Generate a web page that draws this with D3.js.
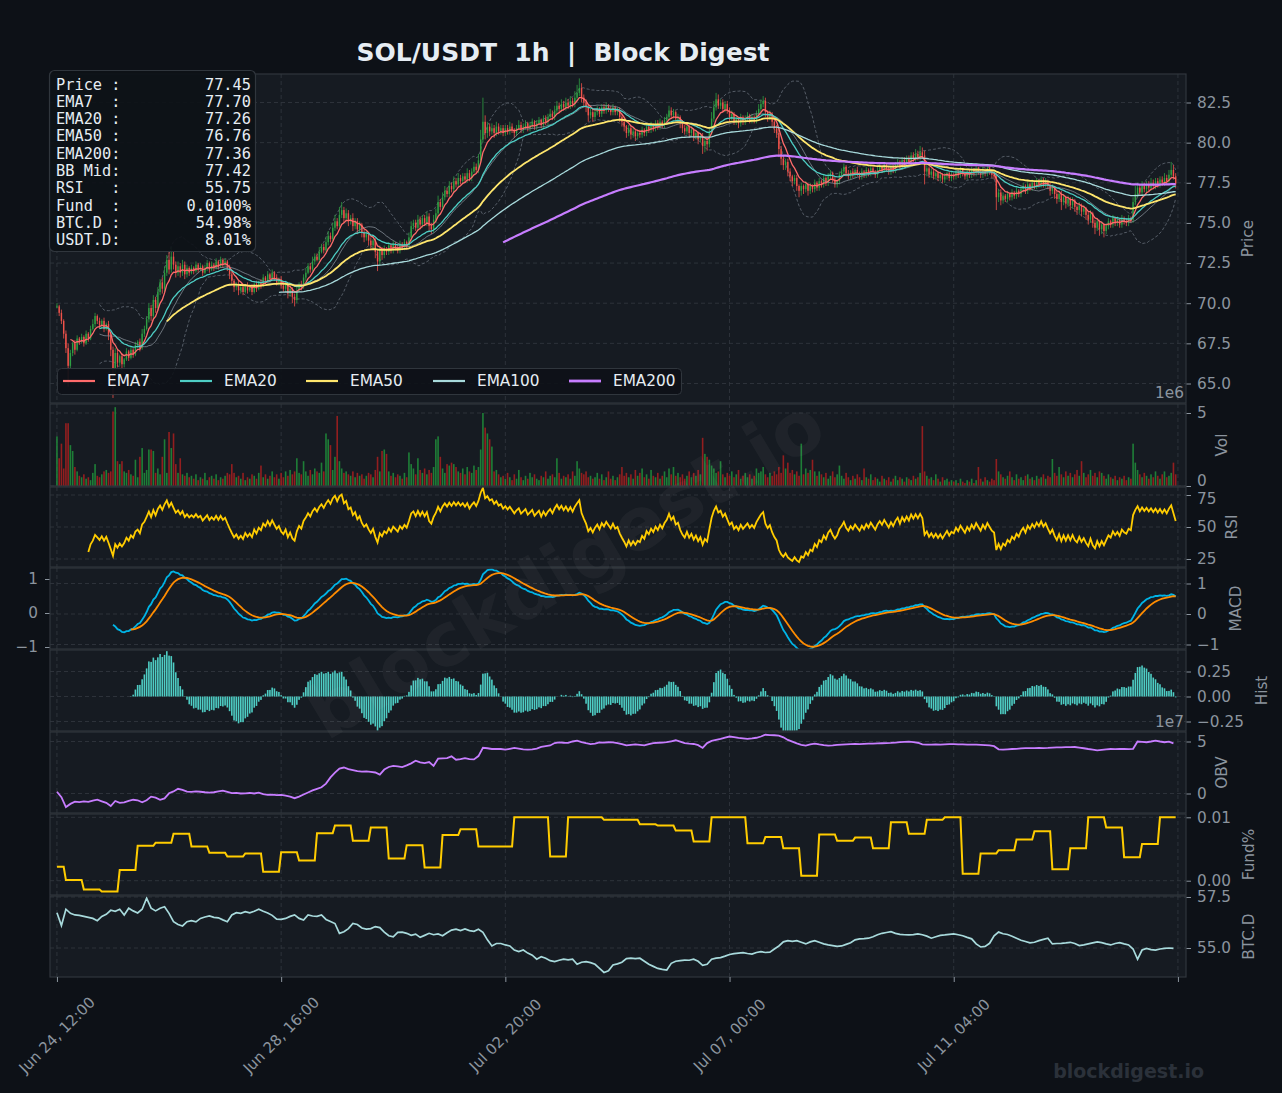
<!DOCTYPE html>
<html>
<head>
<meta charset="utf-8">
<script src="https://cdn.jsdelivr.net/npm/d3@7"></script>
<style>
  body { margin: 0; background: #0d1117; }
  svg { display: block; font-family: "DejaVu Sans", sans-serif; }
</style>
</head>
<body>
<div id="chart"></div>
<script>
// hourly closes, SOL/USDT, from Jun 24 12:00
var closes = [
 69.8,69.4,68.9,68.1,67.2,66.1,66.9,67.5,67.1,67.8,67.6,67.9,67.5,68.1,67.8,68.4,68.7,69.2,68.9,68.6,
 68.9,68.4,68.7,68.0,67.1,65.9,66.9,66.3,66.7,66.2,66.5,67.0,66.6,67.1,66.8,67.4,67.6,67.2,68.1,68.4,
 69.0,69.7,69.2,70.2,69.7,70.7,71.3,70.9,71.9,72.7,72.1,72.9,72.4,71.9,72.3,71.9,72.4,71.8,72.2,71.9,
 72.2,72.0,72.4,72.1,72.3,71.9,72.2,72.5,72.1,72.4,72.2,72.6,72.3,72.7,72.4,72.6,72.2,71.8,71.4,71.0,
 71.2,70.8,71.0,70.7,71.1,70.8,71.0,70.7,71.2,70.9,71.3,71.1,71.6,71.4,71.8,71.5,71.9,71.6,71.3,71.5,
 71.1,70.9,71.2,70.6,70.9,70.4,70.2,70.8,71.2,71.0,71.6,71.9,72.3,72.1,72.6,72.9,72.7,73.2,73.5,73.3,
 73.8,74.2,74.0,74.7,75.1,74.8,75.5,75.8,75.3,75.6,75.1,75.3,74.8,75.1,74.6,74.9,74.4,74.1,74.3,73.9,
 73.6,73.9,73.2,72.6,73.3,73.0,73.4,73.2,73.6,73.3,73.7,73.5,73.3,73.7,73.5,73.8,73.6,74.1,74.8,75.0,
 74.7,75.2,74.9,75.3,75.0,75.4,74.8,74.6,75.2,75.6,76.3,76.0,76.6,77.0,76.8,77.3,77.1,77.6,77.4,77.8,
 77.6,77.9,77.7,78.1,77.8,78.2,78.5,78.3,78.9,80.2,81.3,80.6,81.0,80.7,80.9,80.6,81.0,80.7,80.9,80.6,
 80.9,80.7,81.0,80.8,80.6,80.9,81.1,80.8,81.0,81.2,80.9,81.1,81.3,81.0,81.2,81.4,81.1,81.5,81.3,81.6,
 81.8,81.6,82.0,82.3,82.1,82.4,82.2,82.5,82.3,82.6,82.4,82.8,83.1,83.4,82.8,82.5,82.2,81.7,81.9,81.6,
 81.9,82.1,81.8,82.2,82.0,82.3,82.1,81.9,82.2,81.9,82.0,81.6,81.3,81.0,80.6,80.9,80.5,80.7,80.4,80.6,
 80.5,80.8,80.6,81.0,80.8,81.1,80.9,81.2,81.0,81.3,81.1,81.4,81.6,82.0,81.7,81.9,81.5,81.6,81.2,80.9,
 80.7,81.0,80.6,80.8,80.4,80.6,80.2,80.4,79.8,80.1,79.9,80.6,81.5,82.2,82.7,82.3,82.5,82.1,82.4,82.0,
 81.6,81.8,81.3,81.5,81.2,81.6,81.3,81.5,81.7,81.4,81.6,81.4,81.8,82.1,82.4,82.6,81.9,81.6,81.8,81.3,
 80.9,80.6,79.6,79.0,78.6,78.8,78.2,77.9,77.6,77.8,77.3,77.0,77.3,77.1,77.4,77.0,77.3,77.1,77.5,77.2,
 77.6,77.4,77.8,77.5,77.9,78.1,77.7,77.4,77.6,78.0,78.2,78.5,78.1,77.9,78.2,78.0,78.3,78.1,77.9,78.2,
 78.0,78.3,78.1,78.4,78.2,78.0,78.3,78.5,78.3,78.6,78.4,78.2,78.5,78.3,78.6,78.8,78.5,78.9,78.7,79.0,
 78.8,79.2,79.0,79.3,79.1,79.4,79.2,78.2,78.4,78.0,78.2,77.9,78.1,77.8,78.0,77.7,77.9,78.1,77.8,78.0,
 77.9,78.2,78.0,78.3,78.1,77.9,78.2,78.0,78.3,78.1,78.4,78.2,78.0,78.3,78.1,78.4,78.2,78.0,77.9,76.6,
 76.9,76.4,76.7,76.5,76.8,76.6,76.9,76.7,77.0,76.8,77.1,77.3,77.0,77.4,77.2,77.5,77.3,77.6,77.4,77.7,
 77.4,77.6,77.3,77.0,77.2,76.8,76.5,76.8,76.3,76.6,76.2,76.5,76.1,76.4,76.0,75.8,76.1,75.7,75.9,75.5,
 75.2,75.6,75.0,74.7,75.1,74.6,74.9,74.5,74.8,75.1,74.9,75.3,75.0,75.2,74.9,75.3,75.1,75.0,75.3,75.2,
 76.3,76.8,77.2,76.9,77.3,77.1,77.4,77.2,77.5,77.3,77.6,77.4,77.7,77.5,77.8,77.6,78.0,78.3,77.9,77.45
];

// wick length above / below the candle body, in tenths of a dollar
var wickHi = [
 2,1,2,1,2,3,2,1,2,2,1,2,1,2,1,2,3,2,1,2,
 1,2,1,2,1,2,3,2,1,2,1,2,1,2,1,2,1,2,3,2,
 2,3,2,3,2,3,2,3,4,3,5,6,3,2,3,2,3,2,2,1,
 2,1,2,1,2,1,2,2,1,2,1,2,1,2,1,2,1,2,2,1,
 1,2,1,2,1,2,1,2,1,2,1,2,2,1,2,1,2,1,2,1,
 2,1,2,1,2,1,2,2,1,2,2,3,2,2,3,2,2,3,2,2,
 3,3,2,3,4,2,5,5,2,3,2,2,3,2,2,2,1,2,2,1,
 2,1,2,2,3,2,2,1,2,1,2,1,2,2,1,2,1,3,3,2,
 2,3,2,2,2,3,2,2,3,3,4,2,3,3,2,3,2,3,2,3,
 2,2,2,3,2,2,3,2,4,6,15,4,3,2,3,2,3,2,2,2,
 2,2,3,2,1,2,3,2,2,2,1,2,2,1,2,2,1,2,2,2,
 3,2,3,3,2,3,2,3,2,3,2,4,5,6,3,2,2,2,2,2,
 2,2,1,2,2,2,1,2,2,1,2,2,1,2,1,2,1,2,1,2,
 2,2,1,2,2,2,1,2,2,2,1,2,2,3,2,2,1,2,1,2,
 2,2,1,2,1,2,1,2,2,2,2,3,4,4,4,3,2,2,2,2,
 2,2,1,2,1,2,1,2,2,1,2,1,2,3,3,3,2,1,2,1,
 2,2,3,2,2,2,2,2,1,2,2,1,2,1,2,1,2,1,2,1,
 2,1,2,1,2,2,1,2,1,2,2,2,1,2,1,2,1,2,1,2,
 1,2,1,2,1,1,2,2,1,2,1,1,2,1,2,2,1,2,2,2,
 2,2,2,3,2,4,3,3,2,1,2,1,2,1,2,1,2,1,1,2,
 1,2,1,2,1,1,2,1,2,1,2,1,1,2,1,2,1,1,1,2,
 2,2,2,1,2,1,2,1,2,1,2,2,1,2,1,2,1,2,1,2,
 1,2,1,2,2,1,2,2,2,2,1,2,1,2,1,1,2,1,2,1,
 2,2,1,2,2,1,2,1,2,2,1,2,1,2,1,2,1,2,2,1,
 3,5,3,2,3,2,2,2,3,2,2,2,2,2,3,2,3,5,3,2
];
var wickLo = [
 1,2,2,3,3,13,2,2,3,1,2,1,2,1,2,1,1,2,2,2,
 2,2,1,3,4,18,2,3,2,3,2,1,2,1,2,1,2,2,1,2,
 1,2,3,2,3,2,2,3,2,2,3,2,3,3,2,3,2,3,2,2,
 1,2,1,2,1,2,1,2,2,1,2,1,2,1,2,1,2,3,3,3,
 2,3,2,2,1,2,1,2,1,2,1,2,1,2,1,2,1,2,2,2,
 2,2,2,3,2,4,4,2,1,2,1,2,1,2,1,2,1,2,1,2,
 1,2,2,1,2,2,1,2,3,2,3,2,3,2,3,2,3,3,2,3,
 3,2,4,6,2,3,2,2,2,2,2,2,2,2,2,2,2,1,2,2,
 2,2,3,2,2,2,3,3,2,2,2,2,2,2,2,2,2,2,2,2,
 2,2,2,2,2,2,1,2,2,1,2,4,3,3,2,3,2,2,2,2,
 2,2,2,2,3,2,1,2,2,2,2,2,2,2,2,1,2,2,2,2,
 1,2,2,2,2,2,2,2,2,2,2,2,2,2,3,3,3,4,2,3,
 2,2,2,2,2,2,2,2,2,2,2,3,3,3,3,2,3,2,3,2,
 2,2,2,2,2,2,2,2,2,2,2,2,2,2,2,2,2,2,3,3,
 2,2,3,2,3,2,3,2,5,4,4,2,1,2,2,2,2,2,2,2,
 3,2,2,2,3,2,2,2,2,2,2,2,2,2,2,2,3,3,2,3,
 3,3,5,4,3,3,3,3,3,2,3,4,3,3,2,3,2,2,2,2,
 2,2,2,2,2,2,2,2,2,2,2,2,2,2,2,2,2,2,2,2,
 2,2,2,2,2,2,2,1,2,2,2,2,2,2,2,1,2,2,2,2,
 2,2,2,2,2,2,2,8,3,2,2,2,2,2,2,2,2,2,2,2,
 2,2,2,2,2,2,2,2,2,2,2,2,2,2,2,2,2,2,2,8,
 3,3,2,2,2,2,2,2,2,2,2,2,2,2,2,2,2,2,2,2,
 2,2,2,3,2,3,3,2,5,2,3,2,3,2,3,3,2,3,2,3,
 3,2,3,4,2,4,3,4,2,2,2,2,2,2,2,2,2,2,2,2,
 2,2,2,2,2,2,2,2,2,2,2,2,2,2,2,2,2,2,2,3
];

// hourly volume, millions
var volumes = [
 3.4,1.9,2.9,1.2,4.3,4.3,2.8,2.4,1.3,1.0,0.7,0.6,0.8,0.5,0.6,0.4,0.9,1.5,0.7,0.6,
 0.8,1.0,1.1,0.9,1.0,5.1,5.4,1.7,1.5,1.7,1.0,0.9,1.1,0.8,0.7,1.8,0.6,2.0,2.6,0.9,
 1.1,2.5,2.5,2.4,0.9,1.2,0.8,2.0,3.2,0.9,3.7,2.6,3.6,1.5,0.9,1.9,0.8,0.7,0.9,0.6,
 0.7,0.5,0.8,0.4,0.6,0.5,0.9,0.4,0.6,0.7,0.5,0.8,0.4,0.6,0.5,0.7,0.9,0.8,1.5,0.9,
 0.6,0.7,0.5,0.9,0.4,0.6,0.5,0.8,0.7,0.5,0.9,1.4,0.6,0.8,0.5,0.7,1.0,0.6,0.8,0.5,
 0.9,0.6,1.0,0.7,1.1,0.8,1.0,1.9,0.9,0.8,1.7,1.0,0.7,1.1,0.8,1.2,1.0,0.9,1.6,1.0,
 3.6,3.2,2.8,1.1,2.0,4.8,1.7,1.2,0.9,1.0,0.8,0.7,1.0,0.6,0.9,0.7,0.8,0.5,0.7,0.9,
 0.8,0.6,1.1,2.0,1.0,2.4,2.5,2.2,1.0,0.7,0.9,0.6,0.8,0.7,0.5,0.9,0.6,2.3,1.5,1.2,
 0.8,1.9,1.1,0.9,1.2,0.8,1.1,0.9,1.3,3.2,3.4,2.0,1.2,0.9,1.5,1.4,1.6,1.5,1.3,1.0,
 0.9,1.2,0.8,1.3,1.0,0.9,1.4,1.1,1.3,2.5,5.0,4.0,3.6,3.2,2.7,1.0,1.1,0.8,0.6,0.7,
 0.5,0.9,0.6,0.4,0.8,0.5,1.1,0.6,0.4,0.7,0.5,0.9,0.6,0.8,0.5,0.4,0.7,0.6,1.0,0.5,
 0.7,0.8,0.6,1.9,0.9,0.5,0.7,0.6,0.8,0.5,1.0,0.7,1.7,1.2,0.9,0.8,1.0,0.6,0.7,0.5,
 0.6,0.9,0.5,0.8,0.4,0.6,1.0,0.5,0.7,0.4,0.6,0.8,1.3,0.7,0.9,0.6,0.8,0.5,1.1,0.7,
 0.9,1.2,0.6,0.8,0.5,1.1,0.7,0.6,0.9,0.5,0.7,1.0,0.6,1.2,0.8,1.3,0.7,0.9,0.6,0.8,
 0.5,0.7,1.0,0.6,0.9,0.7,1.1,0.8,3.3,2.2,2.0,1.8,1.4,1.2,0.9,1.0,1.7,0.8,0.6,0.9,
 0.7,1.0,0.6,0.8,1.1,0.5,0.7,0.9,0.6,0.8,0.5,0.7,1.2,0.9,1.0,1.3,0.8,0.6,0.9,0.7,
 1.0,0.8,1.3,0.9,2.1,1.2,1.6,0.9,1.1,0.8,1.0,0.7,2.9,0.8,1.2,0.9,1.1,1.8,1.0,0.7,
 1.0,0.8,0.6,0.9,0.5,0.7,1.0,0.6,0.8,1.4,0.7,0.5,0.9,0.6,0.4,0.7,0.5,0.8,0.6,0.4,
 1.2,0.6,0.5,0.8,0.4,0.6,0.5,0.3,0.7,0.5,0.4,0.6,0.3,0.5,0.7,0.4,0.6,0.5,0.3,0.6,
 0.5,0.4,0.7,0.5,0.6,0.9,4.1,1.0,0.7,0.5,0.6,0.4,0.8,0.5,0.3,0.6,0.4,0.5,0.3,0.4,
 0.3,0.4,0.2,0.5,0.3,0.2,0.4,0.3,0.5,0.2,0.4,1.3,0.5,0.3,0.6,0.4,0.3,0.5,0.4,1.85,
 1.0,0.8,0.6,0.5,0.7,1.0,0.6,0.4,0.8,0.5,0.6,0.4,0.7,0.8,0.5,0.6,0.4,0.7,0.5,0.6,
 0.8,0.5,0.7,0.6,1.85,0.9,0.7,1.3,0.8,0.6,1.0,0.7,0.9,0.6,0.8,1.1,0.7,1.7,0.9,0.6,
 0.8,1.1,0.7,0.9,0.6,1.0,0.9,0.7,0.5,0.8,0.6,0.5,0.7,0.4,0.6,0.5,0.7,0.4,0.6,0.5,
 2.9,1.6,1.1,0.8,0.6,0.9,0.7,0.5,0.8,0.6,1.0,0.7,0.5,0.8,1.0,0.6,0.7,0.9,1.6,0.8
];

// funding rate (%), one value per 8h settlement window
var fundingRates = [
 0.0022,0.0001,-0.0014,-0.0017,0.0017,0.0055,0.0060,0.0074,0.0054,0.0044,0.0038,0.0043,0.0014,0.0045,0.0032,0.0075,
 0.0087,0.0063,0.0084,0.0035,0.0056,0.0021,0.0072,0.0081,0.0054,0.0054,0.0100,0.0100,0.0038,0.0100,0.0100,0.0096,
 0.0096,0.0089,0.0087,0.0079,0.0062,0.0100,0.0100,0.0059,0.0069,0.0051,0.0008,0.0073,0.0063,0.0068,0.0051,0.0092,
 0.0074,0.0096,0.0100,0.0011,0.0043,0.0048,0.0065,0.0078,0.0018,0.0051,0.0100,0.0084,0.0037,0.0058,0.0100
];

// BTC dominance %, every 2h
var btcDom = [
 56.73,56.10,56.90,56.70,56.62,56.60,56.55,56.50,56.45,56.34,56.55,56.65,56.85,56.80,56.90,56.62,56.95,56.82,56.72,56.90,
 57.44,56.95,56.82,56.95,57.02,56.70,56.29,56.15,56.08,56.29,56.34,56.28,56.45,56.52,56.57,56.50,56.48,56.38,56.29,56.62,
 56.73,56.70,56.78,56.72,56.80,56.90,56.80,56.72,56.60,56.41,56.40,56.45,56.55,56.62,56.45,56.37,56.62,56.57,56.55,56.62,
 56.40,56.30,56.20,55.72,55.80,55.95,56.20,56.15,55.98,55.93,55.95,56.05,56.00,55.78,55.60,55.55,55.77,55.78,55.72,55.62,
 55.68,55.52,55.62,55.72,55.65,55.69,55.60,55.75,55.88,55.92,55.85,55.93,55.85,55.82,55.92,55.77,55.40,55.10,55.22,55.22,
 55.15,55.10,54.90,54.82,54.90,54.75,54.65,54.45,54.57,54.50,54.38,54.33,54.40,54.45,54.42,54.45,54.20,54.30,54.33,54.28,
 54.20,54.00,53.80,53.88,54.17,54.22,54.30,54.48,54.50,54.48,54.50,54.35,54.20,54.10,54.00,53.95,53.92,54.25,54.35,54.38,
 54.41,54.40,54.45,54.35,54.15,54.20,54.45,54.50,54.53,54.60,54.68,54.72,54.75,54.77,54.73,54.70,54.78,54.82,54.78,54.80,
 54.95,55.10,55.30,55.36,55.33,55.36,55.28,55.20,55.30,55.36,55.28,55.20,55.15,55.12,55.08,55.10,55.18,55.26,55.40,55.45,
 55.46,55.48,55.55,55.65,55.72,55.76,55.80,55.72,55.67,55.65,55.64,55.66,55.69,55.65,55.58,55.48,55.55,55.62,55.64,55.67,
 55.69,55.65,55.60,55.52,55.45,55.20,55.05,55.08,55.23,55.60,55.78,55.70,55.66,55.58,55.48,55.38,55.32,55.25,55.28,55.36,
 55.42,55.48,55.20,55.22,55.23,55.25,55.28,55.22,55.12,55.15,55.20,55.25,55.30,55.26,55.20,55.15,55.22,55.26,55.20,55.15,
 54.95,54.45,54.90,54.98,54.92,54.90,54.95,54.98,55.00,54.98
];

// on-balance volume, 1e7, every 2h
var obvVals = [
 0.17,-0.35,-1.3,-1.0,-0.79,-0.82,-0.75,-0.8,-0.68,-0.6,-0.75,-0.9,-1.2,-0.72,-0.9,-0.85,-0.7,-0.6,-0.65,-0.85,
 -0.65,-0.3,-0.4,-0.6,-0.47,0.02,0.2,0.45,0.35,0.18,0.15,0.2,0.17,0.12,0.08,0.12,0.2,0.27,0.15,0.03,
 0.05,0.0,0.02,0.05,0.0,0.08,-0.05,-0.14,-0.1,-0.15,-0.14,-0.2,-0.3,-0.45,-0.3,-0.1,0.1,0.3,0.45,0.6,
 0.95,1.55,2.0,2.4,2.5,2.35,2.25,2.15,2.1,2.12,2.08,2.02,1.82,2.3,2.55,2.66,2.6,2.53,2.7,2.9,
 3.15,3.0,2.92,3.02,2.66,3.35,3.38,3.4,3.57,3.25,3.3,3.4,3.31,3.28,3.6,4.4,4.35,4.28,4.3,4.28,
 4.22,4.3,4.38,4.32,4.25,4.21,4.25,4.32,4.48,4.56,4.62,4.85,4.92,4.88,4.87,5.0,5.08,4.95,4.84,4.75,
 4.8,4.92,4.9,4.93,4.92,4.84,4.75,4.62,4.68,4.72,4.68,4.62,4.75,4.85,4.88,4.9,4.93,5.02,5.12,4.98,
 4.85,4.8,4.76,4.65,4.38,4.85,5.05,5.15,5.25,5.38,5.48,5.42,5.34,5.3,5.25,5.3,5.36,5.48,5.65,5.62,
 5.6,5.57,5.4,5.15,4.98,4.82,4.68,4.6,4.72,4.8,4.72,4.65,4.6,4.63,4.67,4.7,4.72,4.74,4.76,4.75,
 4.78,4.79,4.8,4.82,4.83,4.84,4.86,4.9,4.94,4.97,4.99,4.95,4.88,4.72,4.7,4.7,4.71,4.7,4.72,4.74,
 4.75,4.73,4.72,4.7,4.7,4.7,4.68,4.65,4.62,4.55,4.25,4.22,4.25,4.28,4.3,4.33,4.36,4.37,4.37,4.38,
 4.37,4.39,4.42,4.44,4.44,4.45,4.46,4.47,4.42,4.35,4.28,4.22,4.15,4.2,4.25,4.28,4.27,4.28,4.28,4.27,
 4.3,5.0,4.97,4.93,5.0,5.08,5.0,4.93,4.98,4.82
];

var infoLabels = ["Price :", "EMA7  :", "EMA20 :", "EMA50 :", "EMA200:", "BB Mid:", "RSI   :", "Fund  :", "BTC.D :", "USDT.D:"];
var infoValues = ["77.45", "77.70", "77.26", "76.76", "77.36", "77.42", "55.75", "0.0100%", "54.98%", "8.01%"];

var emaSpans = [7, 20, 50, 100, 200];
var emaNames = ["EMA7", "EMA20", "EMA50", "EMA100", "EMA200"];
var emaColors = ["#ff6b6b", "#4ecdc4", "#ffe66d", "#a8dadc", "#c77dff"];
var emaWidths = [1.3, 1.3, 1.8, 1.3, 2.2];

var startTime = Date.UTC(2025, 5, 24, 12);
var HOUR = 3600 * 1000;
var tickHours = [0, 100, 200, 300, 400, 500];
var fmtTime = d3.utcFormat("%b %d, %H:%M");

// ---------- indicators ----------
// recursive EMA (adjust=False), first value shown once `minP` points are in
function ema(arr, span, minP) {
  var a = 2 / (span + 1), prev = null, cnt = 0, out = [];
  arr.forEach(function (v) {
    if (v == null) { out.push(null); return; }
    prev = prev == null ? v : a * v + (1 - a) * prev;
    cnt++;
    out.push(cnt >= (minP || span) ? prev : null);
  });
  return out;
}
function sma(arr, w) {
  return arr.map(function (d, i) { return i < w - 1 ? null : d3.mean(arr.slice(i - w + 1, i + 1)); });
}
function stdev(arr, w) {
  return arr.map(function (d, i) { return i < w - 1 ? null : d3.deviation(arr.slice(i - w + 1, i + 1)); });
}

var n = closes.length;
var opens = closes.map(function (d, i) { return i === 0 ? d : closes[i - 1]; });
var highs = closes.map(function (d, i) { return Math.max(d, opens[i]) + wickHi[i] / 10; });
var lows = closes.map(function (d, i) { return Math.min(d, opens[i]) - wickLo[i] / 10; });
var times = closes.map(function (d, i) { return new Date(startTime + i * HOUR); });
var emas = emaSpans.map(function (s) { return ema(closes, s); });
var bbMid = sma(closes, 20), bbSd = stdev(closes, 20);
var bbUp = bbMid.map(function (m, i) { return m == null ? null : m + 2 * bbSd[i]; });
var bbLo = bbMid.map(function (m, i) { return m == null ? null : m - 2 * bbSd[i]; });

// RSI, Wilder smoothing
var rsi = [], avgG = 0, avgL = 0;
closes.forEach(function (d, i) {
  if (i === 0) { rsi.push(null); return; }
  var ch = d - closes[i - 1], g = Math.max(0, ch), l = Math.max(0, -ch);
  if (i === 1) { avgG = g; avgL = l; } else { avgG = avgG + (g - avgG) / 14; avgL = avgL + (l - avgL) / 14; }
  rsi.push(i < 14 ? null : (avgL === 0 ? 100 : 100 - 100 / (1 + avgG / avgL)));
});

var e12 = ema(closes, 12, 26), e26 = ema(closes, 26);
var macd = e26.map(function (d, i) { return d == null ? null : e12[i] - d; });
var signal = ema(macd, 9);
var hist = macd.map(function (d, i) { return signal[i] == null ? null : d - signal[i]; });

var funding = closes.map(function (d, i) { return fundingRates[i < 4 ? 0 : 1 + Math.floor((i - 4) / 8)]; });

// ---------- layout ----------
var width = 1282, height = 1093;
var left = 50, right = 1186;

var svg = d3.select("#chart").append("svg").attr("width", width).attr("height", height);
svg.append("rect").attr("width", width).attr("height", height).attr("fill", "#0d1117");

var x = d3.scaleTime()
  .domain([new Date(startTime - 3.1 * HOUR), new Date(startTime + 503.6 * HOUR)])
  .range([left, right]);
var tickTimes = tickHours.map(function (h) { return new Date(startTime + h * HOUR); });

var panels = [
  { key: "price", top: 74, bottom: 403, y: d3.scaleLinear().domain([65, 82.5]).range([383.5, 102.5]), ticks: d3.range(65, 83, 2.5), fmt: d3.format(".1f"), label: "Price", lx: 1248 },
  { key: "vol", top: 404, bottom: 486, y: d3.scaleLinear().domain([0, 5]).range([486, 413]), ticks: [0, 5], fmt: d3.format("d"), label: "Vol", lx: 1222, nudge: { 0: -5 } },
  { key: "rsi", top: 487, bottom: 567, y: d3.scaleLinear().domain([25, 75]).range([559, 495]), ticks: [25, 50, 75], fmt: d3.format("d"), label: "RSI", lx: 1232, nudge: { 75: 4 } },
  { key: "macd", top: 568, bottom: 649, y: d3.scaleLinear().domain([-1, 1]).range([646, 580]), tickY: d3.scaleLinear().domain([-1, 1]).range([644.5, 583.5]), ticks: [-1, 0, 1], fmt: d3.format("d"), label: "MACD", lx: 1236 },
  { key: "hist", top: 650, bottom: 731, y: d3.scaleLinear().domain([-0.25, 0.25]).range([721.5, 671.5]), ticks: [-0.25, 0, 0.25], fmt: d3.format(".2f"), label: "Hist", lx: 1262 },
  { key: "obv", top: 732, bottom: 813, y: d3.scaleLinear().domain([0, 5]).range([793.5, 741.5]), ticks: [0, 5], fmt: d3.format("d"), label: "OBV", lx: 1222 },
  { key: "fund", top: 814, bottom: 895, y: d3.scaleLinear().domain([0, 0.01]).range([880.7, 817.3]), ticks: [0, 0.01], fmt: d3.format(".2f"), label: "Fund%", lx: 1249 },
  { key: "btc", top: 896, bottom: 977, y: d3.scaleLinear().domain([55, 57.5]).range([948, 897]), ticks: [55, 57.5], fmt: d3.format(".1f"), label: "BTC.D", lx: 1249 }
];
var P = {};
panels.forEach(function (p) { P[p.key] = p; });

var defs = svg.append("defs");

panels.forEach(function (p) {
  var ty = p.tickY || p.y;
  svg.append("rect").attr("x", left).attr("y", p.top).attr("width", right - left).attr("height", p.bottom - p.top).attr("fill", "#161b22");

  defs.append("clipPath").attr("id", "clip-" + p.key)
    .append("rect").attr("x", left).attr("y", p.top).attr("width", right - left).attr("height", p.bottom - p.top);

  var grid = svg.append("g").attr("stroke", "#30363d").attr("stroke-width", 0.9).attr("stroke-dasharray", "4,3");
  grid.selectAll(".hg").data(p.ticks).enter().append("line")
    .attr("x1", left).attr("x2", right)
    .attr("y1", function (d) { return ty(d); }).attr("y2", function (d) { return ty(d); });
  grid.selectAll(".vg").data(tickTimes).enter().append("line")
    .attr("x1", function (d) { return x(d); }).attr("x2", function (d) { return x(d); })
    .attr("y1", p.top).attr("y2", p.bottom);

  var ax = svg.append("g").attr("transform", "translate(" + right + ",0)")
    .call(d3.axisRight(ty).tickValues(p.ticks).tickFormat(p.fmt).tickSize(5).tickPadding(6));
  ax.select(".domain").remove();
  ax.selectAll("line").attr("stroke", "#8b949e");
  ax.selectAll("text").attr("fill", "#8b949e").style("font-size", "15.3px").style("font-family", "DejaVu Sans")
    .attr("y", function (d) { return p.nudge && p.nudge[d] ? p.nudge[d] : 0; });

  svg.append("text")
    .attr("transform", "translate(" + p.lx + "," + ((p.top + p.bottom) / 2) + ") rotate(-90)")
    .attr("text-anchor", "middle").attr("dy", "0.35em")
    .attr("fill", "#8b949e").style("font-size", "15.3px")
    .text(p.label);

  p.g = svg.append("g").attr("clip-path", "url(#clip-" + p.key + ")");
});

function lineFor(yScale, xs) {
  return d3.line()
    .defined(function (d) { return d != null; })
    .x(function (d, i) { return x(xs[i]); })
    .y(function (d) { return yScale(d); });
}

// ---------- price panel ----------
var yP = P.price.y;
var up = "#2ea043", down = "#f0524a";
var bw = 1.4;

var bbLine = lineFor(yP, times);
[bbUp, bbLo].forEach(function (s) {
  P.price.g.append("path").datum(s).attr("d", bbLine)
    .attr("fill", "none").attr("stroke", "#6e7681").attr("stroke-width", 0.9)
    .attr("stroke-dasharray", "3,2").attr("opacity", 0.8);
});

var candles = P.price.g.append("g").selectAll("g").data(closes).enter().append("g")
  .attr("fill", function (d, i) { return d >= opens[i] ? up : down; })
  .attr("stroke", function (d, i) { return d >= opens[i] ? up : down; });
candles.append("line")
  .attr("x1", function (d, i) { return x(times[i]); }).attr("x2", function (d, i) { return x(times[i]); })
  .attr("y1", function (d, i) { return yP(highs[i]); }).attr("y2", function (d, i) { return yP(lows[i]); })
  .attr("stroke-width", 0.8);
candles.append("rect")
  .attr("x", function (d, i) { return x(times[i]) - bw / 2; })
  .attr("y", function (d, i) { return yP(Math.max(d, opens[i])); })
  .attr("width", bw)
  .attr("height", function (d, i) { return Math.max(1, Math.abs(yP(opens[i]) - yP(d))); })
  .attr("stroke", "none");

P.price.g.append("path").datum(bbMid).attr("d", bbLine)
  .attr("fill", "none").attr("stroke", "#8b949e").attr("stroke-width", 1).attr("opacity", 0.75);

emas.forEach(function (s, k) {
  P.price.g.append("path").datum(s).attr("d", lineFor(yP, times))
    .attr("fill", "none").attr("stroke", emaColors[k]).attr("stroke-width", emaWidths[k]);
});

// ---------- volume ----------
var yV = P.vol.y;
P.vol.g.append("g").selectAll("rect").data(volumes).enter().append("rect")
  .attr("x", function (d, i) { return x(times[i]) - 0.8; })
  .attr("y", function (d) { return yV(d); })
  .attr("width", 1.6)
  .attr("height", function (d) { return yV(0) - yV(d); })
  .attr("fill", function (d, i) { return closes[i] >= opens[i] ? "#1f8a3a" : "#a11f1f"; })
  .attr("opacity", 0.9);

// ---------- RSI ----------
P.rsi.g.append("path").datum(rsi).attr("d", lineFor(P.rsi.y, times))
  .attr("fill", "none").attr("stroke", "#ffcc00").attr("stroke-width", 1.8);

// ---------- MACD ----------
P.macd.g.append("path").datum(macd).attr("d", lineFor(P.macd.y, times))
  .attr("fill", "none").attr("stroke", "#00b4e6").attr("stroke-width", 1.8);
P.macd.g.append("path").datum(signal).attr("d", lineFor(P.macd.y, times))
  .attr("fill", "none").attr("stroke", "#ff8c00").attr("stroke-width", 1.8);

var macdLeft = svg.append("g").attr("transform", "translate(" + left + ",0)")
  .call(d3.axisLeft(d3.scaleLinear().domain([-1, 1]).range([647, 579])).tickValues([-1, 0, 1]).tickFormat(d3.format("d")).tickSize(5).tickPadding(7));
macdLeft.select(".domain").remove();
macdLeft.selectAll("line").attr("stroke", "#8b949e");
macdLeft.selectAll("text").attr("fill", "#8b949e").style("font-size", "15.3px").style("font-family", "DejaVu Sans");

// ---------- Histogram ----------
var yH = P.hist.y;
var histBars = hist.map(function (d, i) { return { t: times[i], v: d }; }).filter(function (d) { return d.v != null; });
P.hist.g.append("g").selectAll("rect").data(histBars).enter().append("rect")
  .attr("x", function (d) { return x(d.t) - 0.8; })
  .attr("y", function (d) { return yH(Math.max(0, d.v)); })
  .attr("width", 1.6)
  .attr("height", function (d) { return Math.abs(yH(d.v) - yH(0)); })
  .attr("fill", "#4ecdc4");

// ---------- OBV ----------
var t2 = obvVals.map(function (d, k) { return new Date(startTime + 2 * k * HOUR); });
P.obv.g.append("path").datum(obvVals).attr("d", lineFor(P.obv.y, t2))
  .attr("fill", "none").attr("stroke", "#c77dff").attr("stroke-width", 1.8);

// ---------- Funding ----------
P.fund.g.append("path").datum(funding).attr("d", lineFor(P.fund.y, times))
  .attr("fill", "none").attr("stroke", "#ffcc00").attr("stroke-width", 2);

// ---------- BTC.D ----------
var tb = btcDom.map(function (d, k) { return new Date(startTime + 2 * k * HOUR); });
P.btc.g.append("path").datum(btcDom).attr("d", lineFor(P.btc.y, tb))
  .attr("fill", "none").attr("stroke", "#a8dadc").attr("stroke-width", 1.7);

// spines on top
panels.forEach(function (p) {
  svg.append("rect").attr("x", left).attr("y", p.top).attr("width", right - left).attr("height", p.bottom - p.top)
    .attr("fill", "none").attr("stroke", "#30363d").attr("stroke-width", 1.2);
});

// offset labels
svg.append("text").attr("x", 1184).attr("y", 398).attr("text-anchor", "end")
  .attr("fill", "#8b949e").style("font-size", "15.3px").text("1e6");
svg.append("text").attr("x", 1184).attr("y", 727).attr("text-anchor", "end")
  .attr("fill", "#8b949e").style("font-size", "15.3px").text("1e7");

// ---------- x axis ----------
var xa = svg.append("g").attr("transform", "translate(0,977)")
  .call(d3.axisBottom(x).tickValues(tickTimes).tickSize(5).tickFormat(""));
xa.select(".domain").remove();
xa.selectAll("line").attr("stroke", "#8b949e");

svg.append("g").selectAll("text").data(tickTimes.slice(0, 5)).enter().append("text")
  .attr("transform", function (d) { return "translate(" + x(d) + ",1035) rotate(-45)"; })
  .attr("text-anchor", "middle").attr("dy", "0.35em")
  .attr("fill", "#8b949e").style("font-size", "15px")
  .text(function (d) { return fmtTime(d); });

// ---------- title ----------
svg.append("text").attr("x", 563).attr("y", 61).attr("text-anchor", "middle")
  .attr("fill", "#e6edf3").style("font-size", "25px").style("font-weight", "bold").style("white-space", "pre")
  .text("SOL/USDT  1h  |  Block Digest");

// ---------- info box ----------
var info = svg.append("g");
info.append("rect").attr("x", 49.5).attr("y", 70.5).attr("width", 206).attr("height", 181).attr("rx", 5)
  .attr("fill", "#0d1117").attr("fill-opacity", 0.92).attr("stroke", "#30363d").attr("stroke-width", 1.2);
info.selectAll(".lab").data(infoLabels).enter().append("text")
  .attr("x", 56).attr("y", function (d, i) { return 89.5 + i * 17.3; })
  .attr("fill", "#e6edf3").style("font-family", "DejaVu Sans Mono").style("font-size", "15.3px").style("white-space", "pre")
  .text(function (d) { return d; });
info.selectAll(".val").data(infoValues).enter().append("text")
  .attr("x", 251).attr("y", function (d, i) { return 89.5 + i * 17.3; }).attr("text-anchor", "end")
  .attr("fill", "#e6edf3").style("font-family", "DejaVu Sans Mono").style("font-size", "15.3px")
  .text(function (d) { return d; });

// ---------- legend ----------
var legX = [63, 180, 306, 433, 569];
var leg = svg.append("g");
leg.append("rect").attr("x", 57.5).attr("y", 368.5).attr("width", 624).attr("height", 26).attr("rx", 4)
  .attr("fill", "#0d1117").attr("fill-opacity", 0.9).attr("stroke", "#30363d");
emaNames.forEach(function (nm, k) {
  leg.append("line").attr("x1", legX[k]).attr("x2", legX[k] + 32).attr("y1", 381).attr("y2", 381)
    .attr("stroke", emaColors[k]).attr("stroke-width", k === 4 ? 2.8 : 2.2);
  leg.append("text").attr("x", legX[k] + 44).attr("y", 381).attr("dy", "0.35em")
    .attr("fill", "#e6edf3").style("font-size", "15.3px").text(nm);
});

// ---------- watermarks ----------
svg.append("text").attr("transform", "translate(565,568) rotate(-31)").attr("text-anchor", "middle").attr("dy", "0.35em")
  .attr("fill", "#ffffff").attr("fill-opacity", 0.04).style("font-size", "74px").style("font-weight", "bold")
  .text("blockdigest.io");
svg.append("text").attr("x", 1204).attr("y", 1078).attr("text-anchor", "end")
  .attr("fill", "#2b313a").style("font-size", "19px").style("font-weight", "bold")
  .text("blockdigest.io");
</script>
</body>
</html>
